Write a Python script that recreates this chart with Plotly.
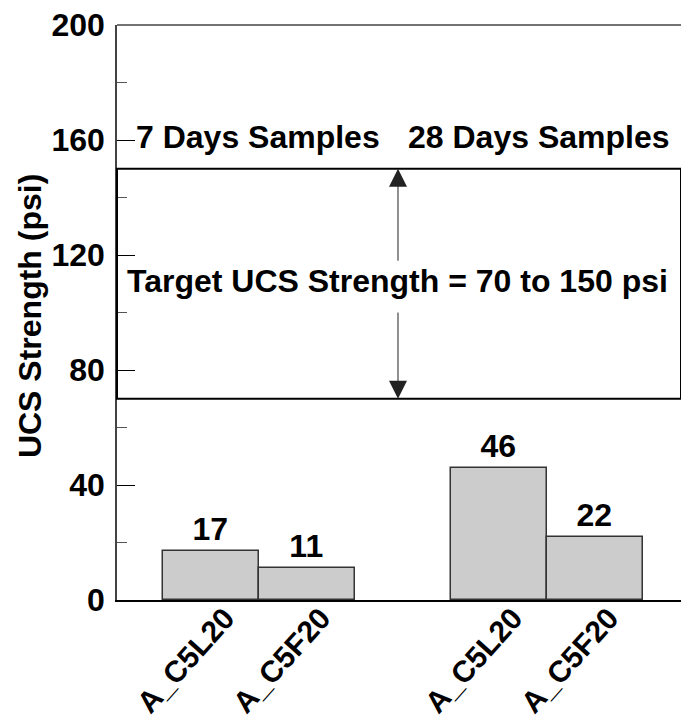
import plotly.graph_objects as go

# Data
categories = ["A_C5L20", "A_C5F20", "A_C5L20", "A_C5F20"]
positions = [1, 2, 4, 5]
ucs_values = [17, 11, 46, 22]
target_low = 70
target_high = 150
y_ticks = [0, 40, 80, 120, 160, 200]

FONT = "Arial, 'Liberation Sans', sans-serif"
FS = 32

fig = go.Figure()
fig.add_trace(go.Bar(
    x=positions, y=ucs_values, width=1,
    marker=dict(color="#d0d0d0",
                line=dict(color="#333333", width=1.5),
                pattern=dict(shape=".", size=2, solidity=0.5,
                             fgcolor="#9a9a9a", bgcolor="#dadada")),
    text=[str(v) for v in ucs_values], textposition="outside",
    textfont=dict(family=FONT, size=FS, color="black", weight="bold"),
    cliponaxis=False, showlegend=False,
))

# Target band
fig.add_shape(type="rect", xref="paper", yref="y", x0=0, x1=1,
              y0=target_low, y1=target_high,
              line=dict(color="black", width=2), fillcolor="rgba(0,0,0,0)")
# top frame line
fig.add_shape(type="line", xref="paper", yref="paper", x0=0, x1=1, y0=1, y1=1,
              line=dict(color="#444444", width=1.5))

arrow_x = 2.947
fig.add_annotation(x=arrow_x, y=target_high, ax=arrow_x, ay=117.5,
                   xref="x", yref="y", axref="x", ayref="y", text="",
                   showarrow=True, arrowhead=2, arrowsize=3.6, arrowwidth=1,
                   arrowcolor="#222222", standoff=0)
fig.add_annotation(x=arrow_x, y=target_low, ax=arrow_x, ay=100.5,
                   xref="x", yref="y", axref="x", ayref="y", text="",
                   showarrow=True, arrowhead=2, arrowsize=3.6, arrowwidth=1,
                   arrowcolor="#222222", standoff=0)

afont = dict(family=FONT, size=FS, color="black", weight="bold")
fig.add_annotation(x=1.489, y=161, xref="x", yref="y", text="7 Days Samples",
                   showarrow=False, font=afont)
fig.add_annotation(x=4.416, y=161, xref="x", yref="y", text="28 Days Samples",
                   showarrow=False, font=afont)
fig.add_annotation(x=arrow_x, y=111, xref="x", yref="y",
                   text=f"Target UCS Strength = {target_low} to {target_high} psi",
                   showarrow=False, font=afont)
fig.add_annotation(x=-0.154, y=0.494, xref="paper", yref="paper",
                   xanchor="center", yanchor="middle",
                   text="UCS Strength (psi)", textangle=-90, showarrow=False,
                   font=afont)

# Category labels (rotated) under each bar
for pos, lab in zip(positions, categories):
    fig.add_annotation(x=pos, y=0, xref="x", yref="y", text=lab,
                       textangle=-48, showarrow=False, xanchor="center",
                       yanchor="middle", xshift=-26, yshift=-60,
                       font=dict(family=FONT, size=30, color="black", weight="bold"))

fig.update_xaxes(range=[0.02, 5.895], tickvals=positions, showticklabels=False,
                 showline=True, linecolor="black", linewidth=2,
                 mirror=False, ticks="", showgrid=False, zeroline=False,
                 automargin=False)
fig.update_yaxes(range=[0, 200], tickvals=y_ticks, ticks="inside", ticklen=18,
                 tickcolor="black", tickwidth=1, showline=True, linecolor="#444444",
                 linewidth=1.5, showgrid=False, zeroline=False, ticklabelstandoff=4,
                 automargin=False,
                 minor=dict(ticks="inside", ticklen=10, dtick=20, tickcolor="#555555"),
                 tickfont=dict(family=FONT, size=FS, color="black", weight="bold"))

fig.update_layout(width=681, height=723, margin=dict(l=117, r=0, t=25, b=123),
                  plot_bgcolor="white", paper_bgcolor="white", bargap=0)

fig.write_html("out.html")
